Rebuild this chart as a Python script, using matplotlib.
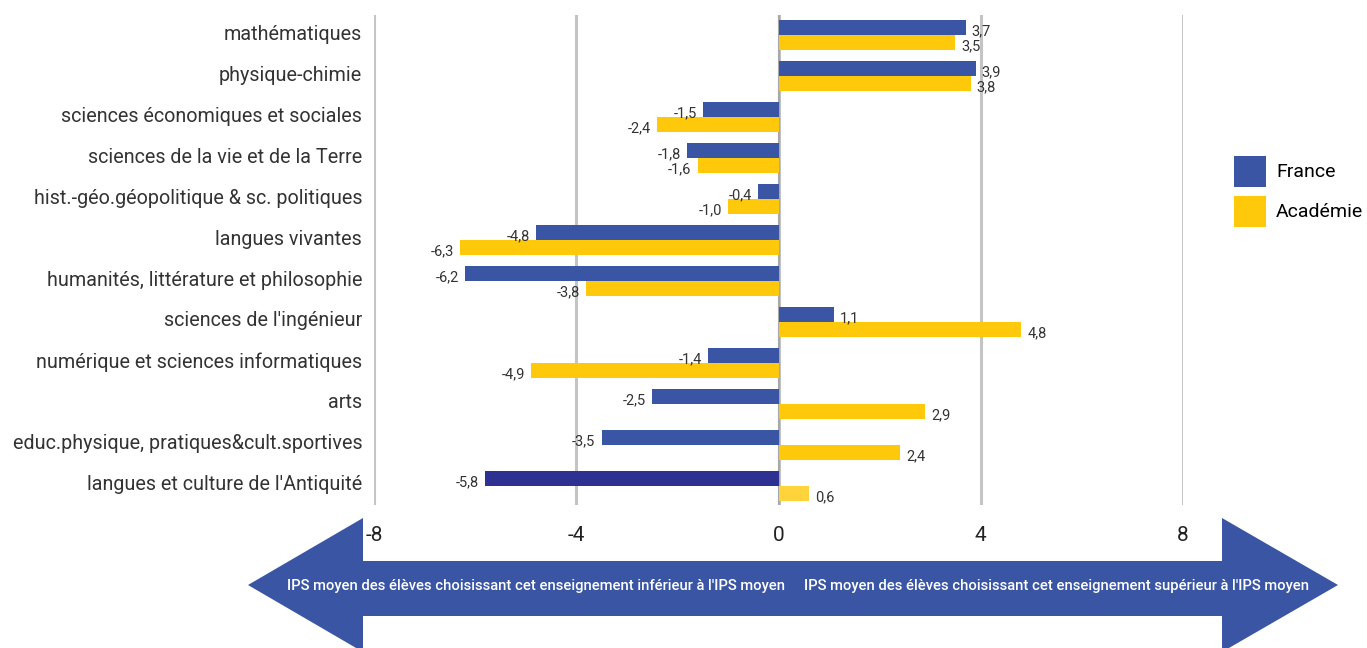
import numpy as np
import matplotlib.pyplot as plt
from matplotlib.patches import Polygon

# données
categories = ["mathématiques", "physique-chimie", "sciences économiques et sociales",
              "sciences de la vie et de la Terre", "hist.-géo.géopolitique & sc. politiques",
              "langues vivantes", "humanités, littérature et philosophie",
              "sciences de l'ingénieur", "numérique et sciences informatiques", "arts",
              "educ.physique, pratiques&cult.sportives", "langues et culture de l'Antiquité"]
france = [3.7, 3.9, -1.5, -1.8, -0.4, -4.8, -6.2, 1.1, -1.4, -2.5, -3.5, -5.8]
academie = [3.5, 3.8, -2.4, -1.6, -1.0, -6.3, -3.8, 4.8, -4.9, 2.9, 2.4, 0.6]
xticks = [-8, -4, 0, 4, 8]

police = 'Roboto'
bleu = '#3955a3'
jaune = '#fec80b'
col_fr = [bleu] * 11 + ['#2e3192']
col_ac = [jaune] * 11 + ['#fed33c']

fig = plt.figure(figsize=(13.67, 6.48), dpi=100)
ax = fig.add_axes([374 / 1367, 1 - 505 / 648, (1183 - 374) / 1367, 490 / 648])

y = np.arange(len(categories))
h = 0.366
ax.barh(y - h / 2, france, height=h, color=col_fr, label='France', zorder=3)
ax.barh(y + h / 2, academie, height=h, color=col_ac, label='Académie', zorder=3)

# étiquettes de valeurs
def fmt(v):
    return f"{v:.1f}".replace('.', ',')

for i in range(len(categories)):
    for v, yy in ((france[i], y[i] - h / 2), (academie[i], y[i] + h / 2)):
        off = 0.12 if v >= 0 else -0.12
        ax.text(v + off, yy + 0.1, fmt(v), ha='left' if v >= 0 else 'right', va='center',
                fontsize=10.5, family=police, color='#333333', zorder=4)

ax.set_xlim(-8, 8)
ax.set_ylim(11.47, -0.49)
ax.set_xticks(xticks)
ax.set_xticklabels([str(t) for t in xticks], family=police, fontsize=15, color='#222222')
ax.set_yticks(y - 0.07)
ax.set_yticklabels(categories, fontsize=14.2, family=police, color='#333333')
ax.tick_params(axis='both', length=0)
ax.tick_params(axis='y', pad=8.5)
ax.tick_params(axis='x', pad=15)
for s in ax.spines.values():
    s.set_visible(False)
ax.grid(axis='x', color='#c4c4c4', linewidth=2.2, zorder=0)
ax.axvline(0, color='#a8a8a8', linewidth=1.5, zorder=2)

fig.legend(loc='upper left', bbox_to_anchor=(1216 / 1367, 1 - 138 / 648), frameon=False,
           prop={'family': police, 'size': 14}, handlelength=1.65, handleheight=2.1,
           labelspacing=0.45, handletextpad=0.55)

# flèche double en bas
def px(x, yy):
    return (x / 1367, 1 - yy / 648)

pts = [px(248, 585), px(363, 518), px(363, 561), px(1222, 561), px(1222, 518), px(1338, 585),
       px(1222, 652), px(1222, 616), px(363, 616), px(363, 652)]
fig.patches.append(Polygon(pts, closed=True, transform=fig.transFigure, facecolor=bleu,
                           edgecolor='none', zorder=0))
fig.text(536 / 1367, 1 - 586 / 648, "IPS moyen des élèves choisissant cet enseignement inférieur à l'IPS moyen",
         ha='center', va='center', color='white', family=police, fontsize=10.6, weight='medium')
fig.text(1056 / 1367, 1 - 586 / 648, "IPS moyen des élèves choisissant cet enseignement supérieur à l'IPS moyen",
         ha='center', va='center', color='white', family=police, fontsize=10.6, weight='medium')

fig.savefig('out.png', dpi=100)
